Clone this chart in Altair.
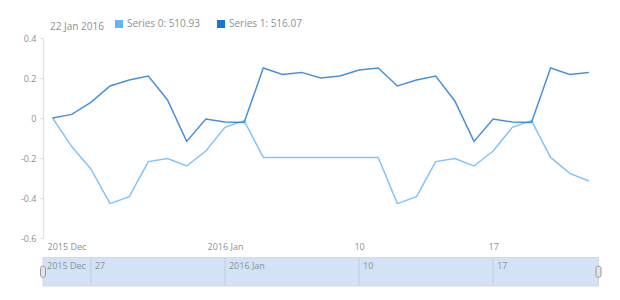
import altair as alt
import pandas as pd

# ---------------- data ----------------
dates = [d.strftime("%Y-%m-%dT00:00:00Z") for d in pd.date_range("2015-12-25", "2016-01-22", freq="D")]
series0 = [0.0, -0.143, -0.255, -0.428, -0.393, -0.218, -0.203, -0.24, -0.165, -0.047,
           -0.013, -0.197, -0.197, -0.197, -0.197, -0.197, -0.197, -0.197, -0.428, -0.393,
           -0.218, -0.203, -0.24, -0.165, -0.047, -0.013, -0.197, -0.277, -0.315]
series1 = [0.0, 0.018, 0.078, 0.16, 0.19, 0.21, 0.09, -0.117, -0.005, -0.02,
           -0.023, 0.25, 0.218, 0.228, 0.2, 0.21, 0.24, 0.25, 0.16, 0.19,
           0.21, 0.085, -0.117, -0.005, -0.02, -0.022, 0.25, 0.218, 0.228]
series_names = ["Series 0", "Series 1"]
series_colors = ["#64B5F6", "#1976D2"]
legend_values = ["510.93", "516.07"]
legend_date = "22 Jan 2016"

y_ticks = [-0.6, -0.4, -0.2, 0, 0.2, 0.4]
range_start = "2015-12-24T12:00:00Z"
range_end = "2016-01-22T12:00:00Z"
x_tick_dates = ["2015-12-24T12:00:00Z", "2016-01-03T00:00:00Z", "2016-01-10T00:00:00Z", "2016-01-17T00:00:00Z"]
x_tick_labels = ["2015 Dec", "2016 Jan", "10", "17"]
scroller_tick_dates = ["2015-12-24T12:00:00Z", "2015-12-27T00:00:00Z", "2016-01-03T00:00:00Z",
                       "2016-01-10T00:00:00Z", "2016-01-17T00:00:00Z"]
scroller_tick_labels = ["2015 Dec", "27", "2016 Jan", "10", "17"]

# ---------------- tables ----------------
lines_df = pd.DataFrame({
    "date": dates * 2,
    "value": series0 + series1,
    "series": [series_names[0]] * len(dates) + [series_names[1]] * len(dates),
})
band_df = pd.DataFrame({"start": [range_start], "end": [range_end], "lo": [0], "hi": [1]})
grid_df = pd.DataFrame({"date": scroller_tick_dates[1:], "lo": 0, "hi": 1})
slabel_df = pd.DataFrame({"date": scroller_tick_dates, "label": scroller_tick_labels, "hi": 1})
handle_df = pd.DataFrame({"date": [range_start, range_end], "mid": [0.5, 0.5]})


def ms(s):
    return int(pd.Timestamp(s).value // 1_000_000)


def dt(s):
    t = pd.Timestamp(s)
    return alt.DateTime(year=t.year, month=t.month, date=t.day, hours=t.hour, utc=True)


FONT = "Open Sans"
GRAY = "#8a9198"

x_scale = alt.Scale(type="utc", domain=[dt(range_start), dt(range_end)])
scroller_y = alt.Scale(domain=[0, 1], range=[248, 219.5], nice=False, zero=False)

tick_ms = [ms(s) for s in x_tick_dates]
label_expr_x = "[" + ",".join("'%s'" % l for l in x_tick_labels) + "][indexof([" + ",".join(str(t) for t in tick_ms) + "], time(datum.value))]"
first_test = "time(datum.value) == %d" % tick_ms[0]

legend_map = " : ".join(
    "datum.label == '%s' ? '%s: %s'" % (n, n, v) for n, v in zip(series_names, legend_values)
) + " : datum.label"

lines = alt.Chart(lines_df).mark_line(strokeWidth=1.5, opacity=0.8).encode(
    x=alt.X("date:T", scale=x_scale, title=None,
            axis=alt.Axis(values=[dt(s) for s in x_tick_dates], labelExpr=label_expr_x,
                          ticks=False, domain=False, grid=False, labelPadding=4,
                          labelFlush=False, labelOverlap=False,
                          labelAlign={"condition": {"test": first_test, "value": "left"}, "value": "center"},
                          labelOffset={"condition": {"test": first_test, "value": 4}, "value": 0})),
    y=alt.Y("value:Q", scale=alt.Scale(domain=[-0.6, 0.4], nice=False), title=None,
            axis=alt.Axis(values=y_ticks, grid=False, tickSize=3, labelPadding=4,
                          labelExpr="replace(format(datum.value, '.1~f'), '\u2212', '-')",
                          domainColor="#dedede", tickColor="#dedede", labelOverlap=False)),
    color=alt.Color("series:N", scale=alt.Scale(domain=series_names, range=series_colors),
                    legend=alt.Legend(orient="none", legendX=7, legendY=-19, direction="horizontal",
                                      title=legend_date, titleOrient="left", titleFontSize=10,
                                      titleFontWeight="normal", titleColor=GRAY, titleFont=FONT,
                                      titlePadding=10, titleBaseline="middle", titleLimit=200,
                                      labelFontSize=10, labelColor=GRAY, labelFont=FONT,
                                      labelExpr=legend_map, labelOffset=3, columnPadding=11,
                                      labelLimit=200,
                                      symbolType="square", symbolSize=16, symbolStrokeWidth=4,
                                      symbolOpacity=1)),
    detail="series:N",
)

band = alt.Chart(band_df).mark_rect(fill="#d3e3f5", stroke="#c9d6e4", strokeWidth=0.8).encode(
    x=alt.X("start:T", scale=x_scale, axis=None, title=None), x2="end:T",
    y=alt.Y("lo:Q", scale=scroller_y, axis=None, title=None), y2="hi:Q",
)
grid = alt.Chart(grid_df).mark_rule(color="#bfcfe1", strokeWidth=1).encode(
    x=alt.X("date:T", scale=x_scale, axis=None, title=None),
    y=alt.Y("lo:Q", scale=scroller_y, axis=None, title=None), y2="hi:Q",
)
slabels = alt.Chart(slabel_df).mark_text(align="left", baseline="top", dx=4, dy=4,
                                         font=FONT, fontSize=9, color=GRAY).encode(
    x=alt.X("date:T", scale=x_scale, axis=None, title=None),
    y=alt.Y("hi:Q", scale=scroller_y, axis=None, title=None),
    text="label:N",
)
handles = alt.Chart(handle_df).mark_tick(orient="vertical", thickness=5, size=11, cornerRadius=2,
                                         color="#e4e4e4", stroke="#999999", strokeWidth=1,
                                         opacity=1).encode(
    x=alt.X("date:T", scale=x_scale, axis=None, title=None),
    y=alt.Y("mid:Q", scale=scroller_y, axis=None, title=None),
)

scroller = alt.layer(band, grid, slabels, handles).resolve_axis(x="independent")

chart = alt.layer(scroller, lines).resolve_scale(y="independent").resolve_axis(
    x="independent", y="independent"
).properties(
    width=555.5, height=200,
    autosize=alt.AutoSizeParams(type="none"),
    padding={"left": 43, "top": 38, "right": 21.5, "bottom": 62},
    background="white",
).configure_axis(
    labelFont=FONT, labelFontSize=9, labelColor=GRAY,
).configure_view(stroke=None)

chart.save("out.html", embed_options={"renderer": "svg", "actions": False})
